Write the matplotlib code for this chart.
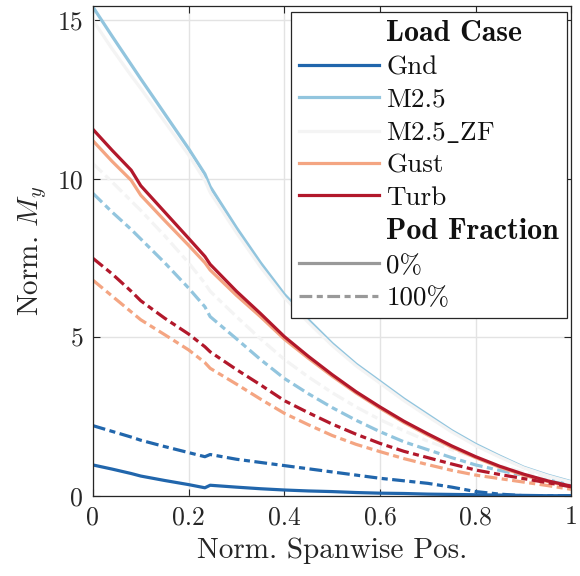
import matplotlib
matplotlib.use("Agg")
import matplotlib.pyplot as plt
from matplotlib.lines import Line2D
from matplotlib.font_manager import FontProperties

plt.rcParams['font.family'] = ['cmr10', 'DejaVu Serif']
plt.rcParams['mathtext.fontset'] = 'cm'
plt.rcParams['axes.formatter.use_mathtext'] = True

# ---- data ----
span = [0.0, 0.04, 0.08, 0.1, 0.15, 0.2, 0.234, 0.245, 0.3, 0.35, 0.4, 0.45,
        0.5, 0.55, 0.6, 0.65, 0.7, 0.75, 0.8, 0.85, 0.9, 0.95, 1.0]

cases = ["Gnd", "M2.5", "M2.5_ZF", "Gust", "Turb"]
legend_labels = ["Gnd", "M2.5", r"M2.5$\_$ZF", "Gust", "Turb"]
colors = ["#2166ac", "#92c5de", "#f4f4f4", "#f4a582", "#b2182b"]

# pod fraction 0 %
gnd_0 = [0.97, 0.84, 0.70, 0.62, 0.48, 0.35, 0.25, 0.33, 0.27, 0.22, 0.18, 0.15,
         0.13, 0.10, 0.08, 0.07, 0.05, 0.04, 0.03, 0.02, 0.01, 0.0, 0.0]
m25_0 = [15.42, 14.5, 13.6, 13.15, 12.05, 10.95, 10.15, 9.75, 8.45, 7.35, 6.35, 5.55,
         4.8, 4.15, 3.6, 3.05, 2.55, 2.05, 1.62, 1.25, 0.9, 0.65, 0.44]
m25zf_0 = [15.0, 14.1, 13.25, 12.85, 11.8, 10.75, 9.95, 9.57, 8.3, 7.22, 6.25, 5.47,
           4.74, 4.1, 3.55, 3.0, 2.5, 2.01, 1.58, 1.22, 0.88, 0.63, 0.42]
gust_0 = [11.2, 10.55, 9.95, 9.48, 8.68, 7.9, 7.35, 7.12, 6.32, 5.65, 4.94, 4.34,
          3.77, 3.24, 2.76, 2.31, 1.91, 1.53, 1.2, 0.9, 0.65, 0.45, 0.28]
turb_0 = [11.56, 10.9, 10.27, 9.78, 8.95, 8.12, 7.55, 7.3, 6.45, 5.75, 5.02, 4.4,
          3.82, 3.28, 2.8, 2.35, 1.95, 1.57, 1.23, 0.93, 0.68, 0.47, 0.3]

# pod fraction 100 %
gnd_100 = [2.21, 2.03, 1.85, 1.75, 1.55, 1.36, 1.23, 1.30, 1.15, 1.05, 0.95, 0.85,
           0.75, 0.65, 0.55, 0.47, 0.39, 0.27, 0.13, 0.05, 0.0, 0.0, 0.0]
m25_100 = [9.54, 8.95, 8.4, 8.1, 7.35, 6.55, 5.96, 5.65, 4.95, 4.3, 3.7, 3.22,
           2.78, 2.38, 2.02, 1.7, 1.45, 1.2, 0.97, 0.8, 0.64, 0.5, 0.36]
m25zf_100 = [10.48, 9.9, 9.3, 9.0, 8.2, 7.35, 6.7, 6.45, 5.65, 4.95, 4.3, 3.75,
             3.25, 2.8, 2.4, 2.05, 1.72, 1.45, 1.2, 0.95, 0.75, 0.58, 0.42]
gust_100 = [6.8, 6.3, 5.8, 5.55, 5.08, 4.6, 4.2, 4.02, 3.52, 3.05, 2.6, 2.24,
            1.9, 1.62, 1.39, 1.17, 0.98, 0.8, 0.65, 0.54, 0.43, 0.32, 0.2]
turb_100 = [7.49, 7.0, 6.45, 6.15, 5.6, 5.1, 4.7, 4.54, 3.98, 3.5, 3.0, 2.62,
            2.26, 1.94, 1.65, 1.4, 1.2, 1.0, 0.81, 0.67, 0.54, 0.41, 0.28]

vals_0 = [gnd_0, m25_0, m25zf_0, gust_0, turb_0]
vals_100 = [gnd_100, m25_100, m25zf_100, gust_100, turb_100]

xticks = [0, 0.2, 0.4, 0.6, 0.8, 1]
xticklabels = ["0", "0.2", "0.4", "0.6", "0.8", "1"]
yticks = [0, 5, 10, 15]
yticklabels = ["0", "5", "10", "15"]

# ---- figure ----
fig = plt.figure(figsize=(5.8, 5.76), dpi=100)
ax = fig.add_axes([0.1602, 0.1394, 0.8250, 0.8502])

lw = 2.3
dashdot = (4.0, 1.4, 1.9, 1.4)
for c, col, v0, v1 in zip(cases, colors, vals_0, vals_100):
    ax.plot(span, v0, color=col, lw=lw, solid_joinstyle='round')
    ax.plot(span, v1, color=col, lw=lw, dashes=dashdot)

ax.set_xlim(0, 1)
ax.set_ylim(0, 15.45)
ax.set_xticks(xticks)
ax.set_xticklabels(xticklabels)
ax.set_yticks(yticks)
ax.set_yticklabels(yticklabels)
ax.tick_params(direction='in', top=True, right=True, length=5, width=0.8,
               labelsize=18.5, colors='#262626', pad=7)
ax.grid(True, color='#e3e3e3', lw=1.0)
ax.set_axisbelow(True)
for s in ax.spines.values():
    s.set_color('#262626')
    s.set_linewidth(0.9)

ax.set_xlabel("Norm. Spanwise Pos.", fontsize=21, color='#262626', labelpad=6)
ax.set_ylabel("Norm. $M_y$", fontsize=21, color='#262626', labelpad=6)

# ---- legend ----
blank = Line2D([], [], color='none')
handles = [blank]
labels = ["Load Case"]
for lab, col in zip(legend_labels, colors):
    handles.append(Line2D([], [], color=col, lw=lw))
    labels.append(lab)
handles.append(blank)
labels.append("Pod Fraction")
handles.append(Line2D([], [], color='#999999', lw=lw))
labels.append("0%")
handles.append(Line2D([], [], color='#999999', lw=lw, dashes=dashdot))
labels.append("100%")

leg = ax.legend(handles, labels, loc='upper right',
                bbox_to_anchor=(567/580, 1 - 12/576), bbox_transform=fig.transFigure,
                borderaxespad=0, fontsize=19.5, frameon=True, fancybox=False,
                framealpha=1, edgecolor='#262626', handlelength=2.95,
                handletextpad=0.27, labelspacing=0.31, borderpad=0.3)
leg.get_frame().set_linewidth(0.9)
bold = FontProperties(family='cmb10', size=21.5)
for t in leg.get_texts():
    t.set_color('#111111')
    if t.get_text() in ("Load Case", "Pod Fraction"):
        t.set_fontproperties(bold)

fig.savefig("out.png", dpi=100)
